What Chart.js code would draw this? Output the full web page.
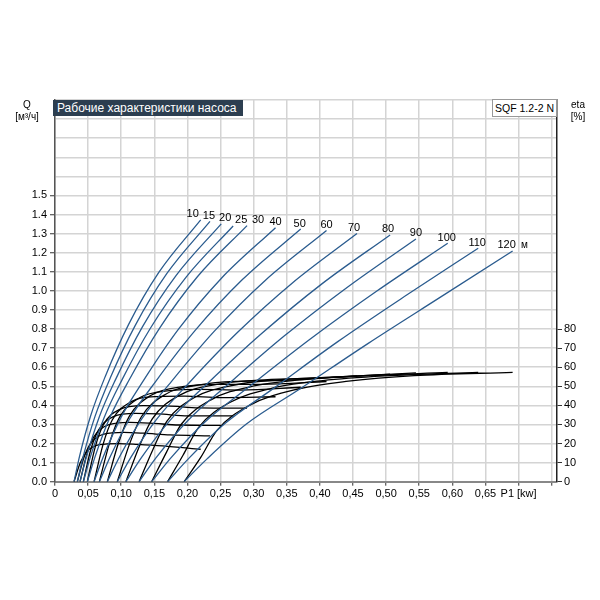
<!DOCTYPE html>
<html>
<head>
<meta charset="utf-8">
<script src="https://cdn.jsdelivr.net/npm/chart.js@4.4.1/dist/chart.umd.min.js"></script>
<style>
    body { margin: 0; background: #fff; font-family: "Liberation Sans", Arial, sans-serif; }
    #wrap { position: relative; width: 600px; height: 600px; }
    #chart { position: absolute; left: 0; top: 0; }
    .box-title { position: absolute; left: 53px; top: 100px; width: 190px; height: 16px; box-sizing: border-box;
        padding-left: 4px; background: #2c3e50; color: #fff; font-size: 12px; line-height: 16px; white-space: nowrap; overflow: hidden; }
    .box-model { position: absolute; left: 492px; top: 99px; width: 65px; height: 18px; box-sizing: border-box;
        background: #fff; border: 1px solid #999; font-size: 10.5px; line-height: 16px; text-align: center; color: #000; }
    .ax { position: absolute; font-size: 10px; color: #000; text-align: center; width: 40px; line-height: 12px; }
</style>
</head>
<body>
<div id="wrap">
    <canvas id="chart" width="600" height="600"></canvas>
    <div class="box-title">Рабочие характеристики насоса</div>
    <div class="box-model">SQF 1.2-2 N</div>
    <div class="ax" style="left:7px;top:99px">Q<br>[м³/ч]</div>
    <div class="ax" style="left:558px;top:99px">eta<br>[%]</div>
</div>
<script>
// pump heads [m]
const heads = [10, 15, 20, 25, 30, 40, 50, 60, 70, 80, 90, 100, 110, 120];

// Q(P1) curves, one row per head
const flowP1 = [
    [0.0287, 0.0373, 0.0536, 0.0756, 0.111, 0.157, 0.220],
    [0.0337, 0.0429, 0.0603, 0.0837, 0.121, 0.169, 0.234],
    [0.0378, 0.0479, 0.0667, 0.0921, 0.132, 0.183, 0.251],
    [0.0428, 0.0538, 0.0741, 0.1015, 0.144, 0.198, 0.269],
    [0.0488, 0.0608, 0.0828, 0.1125, 0.158, 0.215, 0.290],
    [0.059, 0.0732, 0.0991, 0.134, 0.1865, 0.251, 0.333],
    [0.067, 0.0835, 0.113, 0.153, 0.212, 0.283, 0.371],
    [0.079, 0.0977, 0.131, 0.176, 0.241, 0.317, 0.410],
    [0.094, 0.115, 0.153, 0.203, 0.275, 0.358, 0.456],
    [0.107, 0.131, 0.174, 0.231, 0.312, 0.402, 0.506],
    [0.127, 0.153, 0.200, 0.261, 0.346, 0.441, 0.545],
    [0.146, 0.175, 0.226, 0.294, 0.386, 0.486, 0.593],
    [0.170, 0.202, 0.257, 0.330, 0.427, 0.531, 0.639],
    [0.195, 0.230, 0.289, 0.369, 0.473, 0.582, 0.691],
];
const flowQ = [
    [0, 0.137, 0.343, 0.549, 0.823, 1.098, 1.372],
    [0, 0.136, 0.341, 0.546, 0.818, 1.091, 1.364],
    [0, 0.135, 0.338, 0.540, 0.811, 1.081, 1.351],
    [0, 0.134, 0.335, 0.536, 0.804, 1.072, 1.340],
    [0, 0.134, 0.336, 0.537, 0.805, 1.074, 1.342],
    [0, 0.133, 0.333, 0.532, 0.799, 1.065, 1.331],
    [0, 0.132, 0.331, 0.530, 0.794, 1.059, 1.324],
    [0, 0.132, 0.329, 0.526, 0.790, 1.053, 1.316],
    [0, 0.130, 0.325, 0.520, 0.780, 1.040, 1.300],
    [0, 0.129, 0.323, 0.517, 0.776, 1.034, 1.293],
    [0, 0.127, 0.318, 0.509, 0.763, 1.018, 1.272],
    [0, 0.125, 0.312, 0.500, 0.749, 0.999, 1.249],
    [0, 0.122, 0.306, 0.489, 0.734, 0.978, 1.223],
    [0, 0.121, 0.302, 0.484, 0.725, 0.967, 1.209],
];

// eta(P1) curves, one row per head
const etaP1 = [
    [0.0287, 0.0383, 0.0478, 0.0670, 0.0957, 0.1244, 0.1626, 0.220],
    [0.0337, 0.0437, 0.0537, 0.0738, 0.1038, 0.1339, 0.1739, 0.234],
    [0.0378, 0.0485, 0.0591, 0.0804, 0.1124, 0.1444, 0.187, 0.251],
    [0.0428, 0.0541, 0.0654, 0.088, 0.122, 0.1559, 0.2011, 0.269],
    [0.0488, 0.0609, 0.0729, 0.0970, 0.1332, 0.1694, 0.2176, 0.290],
    [0.059, 0.0727, 0.0864, 0.1138, 0.1549, 0.196, 0.2508, 0.333],
    [0.067, 0.0822, 0.0974, 0.1278, 0.1734, 0.219, 0.2798, 0.371],
    [0.079, 0.0956, 0.1121, 0.1452, 0.1949, 0.2445, 0.3107, 0.410],
    [0.094, 0.1121, 0.1302, 0.1664, 0.2207, 0.275, 0.3474, 0.456],
    [0.107, 0.127, 0.1469, 0.1868, 0.2467, 0.3065, 0.3863, 0.506],
    [0.127, 0.1479, 0.1688, 0.2106, 0.2733, 0.336, 0.4196, 0.545],
    [0.146, 0.1684, 0.1907, 0.2354, 0.3025, 0.3695, 0.4589, 0.593],
    [0.170, 0.1935, 0.2169, 0.2638, 0.3342, 0.4045, 0.4983, 0.639],
    [0.195, 0.2198, 0.2446, 0.2942, 0.3686, 0.443, 0.5422, 0.691],
];
const etaVal = [
    [0, 10.0, 15.6, 19.4, 20.0, 19.6, 18.8, 17.0],
    [0, 12.7, 19.9, 24.9, 25.8, 25.4, 24.5, 24.0],
    [0, 15.0, 23.7, 29.8, 31.1, 30.7, 29.7, 29.5],
    [0, 16.9, 26.9, 34.1, 35.8, 35.5, 34.5, 34.5],
    [0, 18.4, 29.7, 37.8, 39.9, 39.7, 38.7, 38.5],
    [0, 19.7, 32.3, 41.7, 44.6, 44.8, 44.1, 44.5],
    [0, 20.1, 33.7, 44.0, 47.7, 48.4, 48.0, 49.5],
    [0, 20.0, 34.2, 45.3, 49.9, 51.0, 51.0, 52.5],
    [0, 19.3, 33.9, 45.7, 50.9, 52.6, 53.1, 55.5],
    [0, 18.2, 32.9, 45.1, 51.1, 53.2, 54.2, 56.3],
    [0, 16.9, 31.6, 44.1, 50.8, 53.4, 54.8, 57.0],
    [0, 15.5, 30.1, 42.9, 50.3, 53.3, 55.3, 57.3],
    [0, 14.0, 28.5, 41.5, 49.5, 53.0, 55.4, 57.3],
    [0, 12.6, 26.9, 40.1, 48.7, 52.7, 55.6, 57.3],
];

// small horizontal nudges so head labels don't collide
const labelDx = [-8, -1, 4, 8, 11, 0, -1, 0, -3, -2, 0, -1, -1, -6];

const FONT = '"Liberation Sans", Arial, sans-serif';
Chart.defaults.font.family = FONT;
Chart.defaults.font.size = 11;
Chart.defaults.color = "#000";

const toPoints = (xs, ys) => xs.map((v, i) => ({ x: v, y: ys[i] }));

const datasets = [];
heads.forEach((h, i) => {
    datasets.push({
        label: "Q " + h,
        data: toPoints(flowP1[i], flowQ[i]),
        yAxisID: "y",
        borderColor: "#2b5c8f",
        borderWidth: 1.3,
    });
});
heads.forEach((h, i) => {
    datasets.push({
        label: "eta " + h,
        data: toPoints(etaP1[i], etaVal[i]),
        yAxisID: "y2",
        borderColor: "#000",
        borderWidth: 1.3,
    });
});

const headLabels = {
    id: "headLabels",
    afterDatasetsDraw(chart) {
        const { ctx, scales } = chart;
        ctx.save();
        ctx.font = "11px " + FONT;
        ctx.fillStyle = "#000";
        ctx.textBaseline = "alphabetic";
        heads.forEach((h, i) => {
            const n = flowP1[i].length - 1;
            const px = scales.x.getPixelForValue(flowP1[i][n]) + labelDx[i];
            const py = scales.y.getPixelForValue(flowQ[i][n]) - 2.5;
            ctx.textAlign = "center";
            ctx.fillText(String(h), px, py);
            if (i === heads.length - 1) {
                ctx.textAlign = "left";
                ctx.font = "10px " + FONT;
                ctx.fillText("м", px + ctx.measureText(String(h)).width / 2 + 6, py);
            }
        });
        ctx.restore();
    },
};

const hideAbove = (limit) => (c) => (c.tick && c.tick.value > limit ? "rgba(0,0,0,0)" : "#333");

new Chart(document.getElementById("chart"), {
    type: "scatter",
    data: { datasets },
    options: {
        responsive: false,
        animation: false,
        showLine: true,
        layout: { padding: { top: 100 } },
        elements: {
            point: { radius: 0, hoverRadius: 0 },
            line: { cubicInterpolationMode: "monotone", fill: false },
        },
        plugins: { legend: { display: false }, tooltip: { enabled: false } },
        scales: {
            x: {
                type: "linear",
                min: 0,
                max: 0.758,
                afterFit: (s) => { s.height = 118.3; },
                ticks: {
                    stepSize: 0.05,
                    includeBounds: false,
                    maxRotation: 0,
                    autoSkip: false,
                    padding: 2,
                    callback: (v) => {
                        if (Math.abs(v) < 1e-9) return "0";
                        if (Math.abs(v - 0.7) < 1e-6) return "P1 [kw]";
                        if (v > 0.72) return "";
                        return v.toFixed(2).replace(".", ",");
                    },
                },
                grid: { color: "#d4d4d4", lineWidth: 1.5, tickLength: 4, tickColor: "#333", tickWidth: 1 },
                border: { color: "#888", width: 2 },
            },
            y: {
                position: "left",
                min: 0,
                max: 2.0,
                afterFit: (s) => { s.width = 55; },
                ticks: {
                    stepSize: 0.1,
                    autoSkip: false,
                    padding: 3,
                    callback: (v) => (v > 1.55 ? "" : v.toFixed(1)),
                },
                grid: { color: "#d4d4d4", lineWidth: 1.5, tickLength: 5, tickColor: hideAbove(1.55), tickWidth: 1 },
                border: { color: "#555", width: 1.5 },
            },
            y2: {
                position: "right",
                min: 0,
                max: 200,
                afterFit: (s) => { s.width = 43; },
                ticks: {
                    stepSize: 10,
                    autoSkip: false,
                    padding: 2,
                    callback: (v) => (v > 80 ? "" : v),
                },
                grid: { drawOnChartArea: false, tickLength: 5, tickColor: hideAbove(85), tickWidth: 1 },
                border: { color: "#222", width: 1.5 },
            },
        },
    },
    plugins: [headLabels],
});
</script>
</body>
</html>
